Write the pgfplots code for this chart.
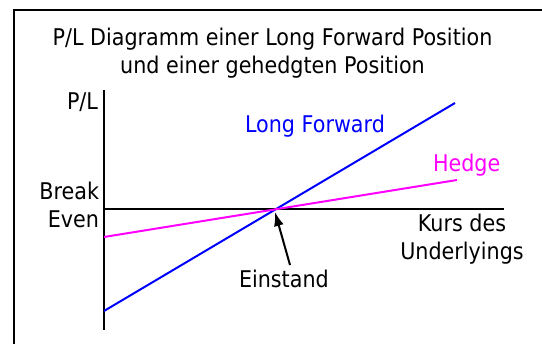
\documentclass[border=0pt]{standalone}
\usepackage{fontspec}
\setmainfont{DejaVu Sans}[FakeStretch=0.9]
\usepackage{pgfplots}
\pgfplotsset{compat=1.18}
\usetikzlibrary{arrows.meta}
\definecolor{lfblue}{RGB}{0,0,255}
\definecolor{hmag}{RGB}{255,0,255}
\tikzset{lbl/.style={inner sep=0pt, outer sep=0pt, font=\fontsize{23bp}{28bp}\selectfont}}
\begin{document}
\begin{tikzpicture}
\begin{axis}[
  scale only axis, width=542bp, height=344bp,
  xmin=-276, xmax=266, ymin=-135, ymax=209,
  hide axis, clip=false,
]
\coordinate (SW) at (rel axis cs:0,0);
\coordinate (NE) at (rel axis cs:1,1);
% frame (top and left edges visible)
\addplot[black, line width=2bp, line cap=butt] coordinates {(-262,-135) (-262,199) (266,199)};
% axes
\addplot[black, line width=2bp] coordinates {(-172,119) (-172,-121)};
\addplot[black, line width=2bp] coordinates {(-172,0) (228,0)};
% Long Forward
\addplot[lfblue, line width=2bp] coordinates {(-172,-102) (179,106)};
% Hedge
\addplot[hmag, line width=2bp] coordinates {(-172,-28) (181,29)};
% arrow
\draw[black, line width=2bp, -{Latex[length=14bp,width=10bp]}] (axis cs:14,-56) -- (axis cs:-1,-3);
% texts
\node[lbl, anchor=base] at (axis cs:-3.5,163) {P/L Diagramm einer Long Forward Position};
\node[lbl, anchor=base] at (axis cs:-3.5,135) {und einer gehedgten Position};
\node[lbl, anchor=base east] at (axis cs:-178,99) {P/L};
\node[lbl, anchor=base west, text=lfblue] at (axis cs:-31,76) {Long Forward};
\node[lbl, anchor=base west, text=hmag] at (axis cs:157,37) {Hedge};
\node[lbl, anchor=base east] at (axis cs:-177,9) {Break};
\node[lbl, anchor=base east] at (axis cs:-177,-19) {Even};
\node[lbl, anchor=base] at (axis cs:186,-23) {Kurs des};
\node[lbl, anchor=base] at (axis cs:186,-51) {Underlyings};
\node[lbl, anchor=base west] at (axis cs:-37,-79) {Einstand};
\end{axis}
\pgfresetboundingbox
\path[use as bounding box] (SW) rectangle (NE);
\end{tikzpicture}
\end{document}
